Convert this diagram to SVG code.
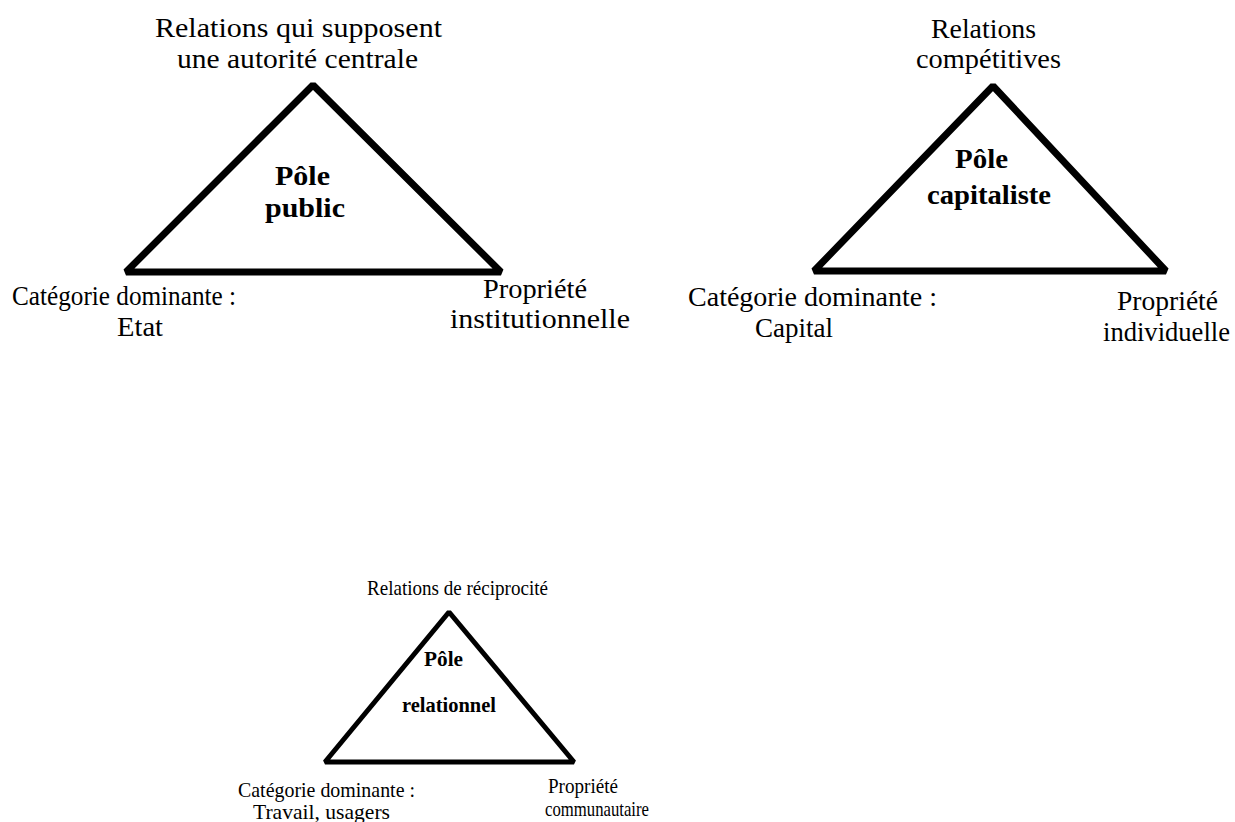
<svg xmlns="http://www.w3.org/2000/svg" width="1235" height="822" viewBox="0 0 1235 822">
<style>
.tri{fill:none;stroke:#000;stroke-linejoin:bevel}
.t{font-family:"Liberation Serif","Times New Roman",serif;fill:#000}
.L{font-size:28px}
.S{font-size:21px}
.b{font-weight:bold}
</style>
<rect width="1235" height="822" fill="#fff"/>
<g id="connectors"></g>
<g id="pole-public">
<polygon class="tri" stroke-width="7" points="313,85 126,272 501,272"/>
<text class="t L" x="155" y="37" textLength="287" lengthAdjust="spacingAndGlyphs">Relations qui supposent</text>
<text class="t L" x="177" y="68" textLength="241" lengthAdjust="spacingAndGlyphs">une autorité centrale</text>
<text class="t L b" x="275" y="185" textLength="55" lengthAdjust="spacingAndGlyphs">Pôle</text>
<text class="t L b" x="265" y="217" textLength="80" lengthAdjust="spacingAndGlyphs">public</text>
<text class="t L" x="12" y="305" textLength="224" lengthAdjust="spacingAndGlyphs">Catégorie dominante :</text>
<text class="t L" x="117" y="336" textLength="46" lengthAdjust="spacingAndGlyphs">Etat</text>
<text class="t L" x="483" y="298" textLength="104" lengthAdjust="spacingAndGlyphs">Propriété</text>
<text class="t L" x="450" y="328" textLength="180" lengthAdjust="spacingAndGlyphs">institutionnelle</text>
</g>
<g id="pole-capitaliste">
<polygon class="tri" stroke-width="7" points="993,86 814,271 1166,271"/>
<text class="t L" x="931" y="38" textLength="105" lengthAdjust="spacingAndGlyphs">Relations</text>
<text class="t L" x="916" y="68" textLength="145" lengthAdjust="spacingAndGlyphs">compétitives</text>
<text class="t L b" x="955" y="168" textLength="53" lengthAdjust="spacingAndGlyphs">Pôle</text>
<text class="t L b" x="927" y="204" textLength="124" lengthAdjust="spacingAndGlyphs">capitaliste</text>
<text class="t L" x="688" y="306" textLength="249" lengthAdjust="spacingAndGlyphs">Catégorie dominante :</text>
<text class="t L" x="755" y="337" textLength="78" lengthAdjust="spacingAndGlyphs">Capital</text>
<text class="t L" x="1117" y="310" textLength="101" lengthAdjust="spacingAndGlyphs">Propriété</text>
<text class="t L" x="1103" y="341" textLength="127" lengthAdjust="spacingAndGlyphs">individuelle</text>
</g>
<g id="pole-relationnel">
<polygon class="tri" stroke-width="5" points="449,612 325,762 574,762"/>
<text class="t S" x="367" y="595" textLength="181" lengthAdjust="spacingAndGlyphs">Relations de réciprocité</text>
<text class="t S b" x="424" y="666" textLength="39" lengthAdjust="spacingAndGlyphs">Pôle</text>
<text class="t S b" x="402" y="712" textLength="94" lengthAdjust="spacingAndGlyphs">relationnel</text>
<text class="t S" x="238" y="797" textLength="177" lengthAdjust="spacingAndGlyphs">Catégorie dominante :</text>
<text class="t S" x="253" y="819" textLength="137" lengthAdjust="spacingAndGlyphs">Travail, usagers</text>
<text class="t S" x="548" y="793" textLength="70" lengthAdjust="spacingAndGlyphs">Propriété</text>
<text class="t S" x="545" y="816" textLength="104" lengthAdjust="spacingAndGlyphs">communautaire</text>
</g>
</svg>
